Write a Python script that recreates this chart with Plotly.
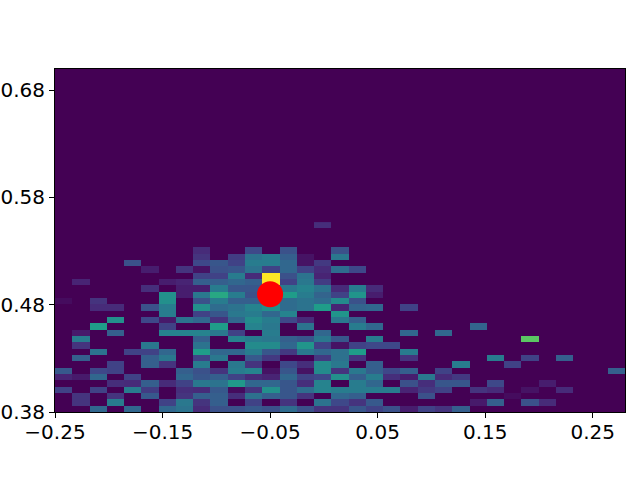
# 2d histogram with one red marker on top
import plotly.graph_objects as go

x_ticks = [-0.25, -0.15, -0.05, 0.05, 0.15, 0.25]
x_labels = ['\u22120.25', '\u22120.15', '\u22120.05', '0.05', '0.15', '0.25']
y_ticks = [0.38, 0.48, 0.58, 0.68]
y_labels = ['0.38', '0.48', '0.58', '0.68']

point_x = [-0.05]
point_y = [0.4897]

# relative bin heights, bottom row first, 33 columns per row
row00 = [0, 0, .33, 0, .33, 0, .33, .38, .12, .25, .25, .28, .25, .35, .25, .15, .15, .27, .2, .25, .08, .2, .15, .3, 0, 0, 0, 0, 0, 0, 0, 0, 0]
row01 = [0, .15, 0, .42, 0, 0, .2, .4, .15, .3, 0, .2, 0, .15, 0, .38, .22, .15, .28, 0, 0, 0, 0, 0, .07, .3, 0, .25, .12, 0, 0, 0, 0]
row02 = [0, .15, 0, .15, 0, .28, 0, .15, .3, .3, .13, .37, .3, .27, .15, 0, .33, .3, 0, 0, 0, .25, 0, 0, 0, 0, .03, 0, 0, 0, 0, 0, 0]
row03 = [.2, 0, .2, 0, .42, .18, 0, .13, .12, .28, .03, .15, .5, .27, .35, .45, .42, .42, .42, .42, .1, .17, .2, 0, .15, .12, 0, .05, 0, .12, 0, 0, 0]
row04 = [0, 0, 0, .13, .12, .3, .12, .2, .4, .38, .53, .33, .33, .27, .13, .45, 0, .42, .33, 0, .25, .13, .27, .27, 0, .22, 0, 0, .08, 0, 0, 0, 0]
row05 = [.1, .07, .33, 0, .2, 0, 0, .33, .27, .3, .2, .12, .1, .33, .2, .22, .5, .3, .42, .13, .08, .4, .12, .17, 0, 0, 0, 0, 0, 0, 0, 0, 0]
row06 = [.28, 0, .22, .2, 0, 0, 0, .3, .25, .15, .42, .45, .05, .27, .05, .48, .15, .4, .3, .22, .3, 0, .2, 0, 0, 0, 0, 0, 0, 0, 0, 0, .3]
row07 = [0, 0, 0, .2, 0, .3, .15, 0, .42, 0, .4, .15, 0, .22, .13, .48, .4, 0, .3, 0, 0, 0, 0, .42, 0, 0, .2, 0, 0, 0, 0, 0, 0]
row08 = [0, .3, 0, 0, 0, .3, .4, 0, .2, .4, 0, .28, .17, 0, 0, .17, .37, .15, 0, 0, .15, 0, 0, 0, 0, .42, 0, .2, 0, .3, 0, 0, 0]
row09 = [0, 0, .38, 0, .2, .2, .33, 0, .55, .33, .33, .42, .27, .17, .4, .33, .37, .55, 0, 0, .42, 0, 0, 0, 0, 0, 0, 0, 0, 0, 0, 0, 0]
row10 = [0, .15, 0, 0, 0, .4, 0, 0, .38, 0, 0, .48, .48, .33, .52, .2, .05, .2, .22, .22, 0, 0, 0, 0, 0, 0, 0, 0, 0, 0, 0, 0, 0]
row11 = [0, .42, 0, 0, 0, 0, 0, 0, .3, 0, .45, .42, .4, .3, .27, .4, .27, 0, .42, 0, 0, 0, 0, 0, 0, 0, 0, .74, 0, 0, 0, 0, 0]
row12 = [0, .07, 0, .3, 0, 0, .45, .45, .45, .4, .2, 0, .42, 0, 0, .33, 0, 0, 0, 0, .33, 0, .33, 0, 0, 0, 0, 0, 0, 0, 0, 0, 0]
row13 = [0, 0, .55, 0, 0, 0, .2, 0, 0, .55, 0, .45, .4, 0, .38, 0, 0, .42, .33, 0, 0, 0, 0, 0, .32, 0, 0, 0, 0, 0, 0, 0, 0]
row14 = [0, 0, 0, .5, 0, .22, .07, .38, .33, .15, .33, .48, .42, .22, .12, 0, .4, .3, 0, 0, 0, 0, 0, 0, 0, 0, 0, 0, 0, 0, 0, 0, 0]
row15 = [0, 0, 0, 0, 0, 0, .42, 0, .2, .27, .4, .42, .33, .45, 0, 0, .52, 0, 0, 0, 0, 0, 0, 0, 0, 0, 0, 0, 0, 0, 0, 0, 0]
row16 = [0, 0, .12, .12, 0, .25, .42, 0, .5, .35, .38, .45, .5, .35, .38, .55, .1, .32, .33, 0, .2, 0, 0, 0, 0, 0, 0, 0, 0, 0, 0, 0, 0]
row17 = [.03, 0, .15, 0, 0, 0, .5, 0, .25, .42, .3, .3, .35, .35, .38, .35, .48, .25, 0, 0, 0, 0, 0, 0, 0, 0, 0, 0, 0, 0, 0, 0, 0]
row18 = [0, 0, 0, 0, 0, 0, .5, .08, .4, .6, .42, .25, .33, .55, .42, .32, .2, .52, .08, 0, 0, 0, 0, 0, 0, 0, 0, 0, 0, 0, 0, 0, 0]
row19 = [0, 0, 0, 0, 0, .13, 0, .08, .08, .42, .27, .27, .35, .4, .45, .38, .12, .42, .12, 0, 0, 0, 0, 0, 0, 0, 0, 0, 0, 0, 0, 0, 0]
row20 = [0, .1, 0, 0, 0, 0, .08, .1, .3, .3, .33, .3, 1, .2, .4, .18, 0, 0, 0, 0, 0, 0, 0, 0, 0, 0, 0, 0, 0, 0, 0, 0, 0]
row21 = [0, 0, 0, 0, 0, 0, 0, 0, .2, .2, .42, .12, 1, .25, .38, .1, 0, 0, 0, 0, 0, 0, 0, 0, 0, 0, 0, 0, 0, 0, 0, 0, 0]
row22 = [0, 0, 0, 0, 0, .08, 0, .15, .05, .25, .27, .38, .2, .33, .2, .12, .35, .22, 0, 0, 0, 0, 0, 0, 0, 0, 0, 0, 0, 0, 0, 0, 0]
row23 = [0, 0, 0, 0, .25, 0, 0, 0, .22, .27, .2, .42, .42, .33, .05, .17, 0, 0, 0, 0, 0, 0, 0, 0, 0, 0, 0, 0, 0, 0, 0, 0, 0]
row24 = [0, 0, 0, 0, 0, 0, 0, 0, .15, 0, .18, .38, .42, .3, .05, 0, .4, 0, 0, 0, 0, 0, 0, 0, 0, 0, 0, 0, 0, 0, 0, 0, 0]
row25 = [0, 0, 0, 0, 0, 0, 0, 0, .12, 0, 0, .22, 0, .25, 0, 0, .25, 0, 0, 0, 0, 0, 0, 0, 0, 0, 0, 0, 0, 0, 0, 0, 0]
row26 = [0] * 33
row27 = [0] * 33
row28 = [0] * 33
row29 = [0, 0, 0, 0, 0, 0, 0, 0, 0, 0, 0, 0, 0, 0, 0, .13, 0, 0, 0, 0, 0, 0, 0, 0, 0, 0, 0, 0, 0, 0, 0, 0, 0]

hist_rows = [row00, row01, row02, row03, row04, row05, row06, row07, row08, row09,
             row10, row11, row12, row13, row14, row15, row16, row17, row18, row19,
             row20, row21, row22, row23, row24, row25, row26, row27, row28, row29]

x_min, x_max = -0.25, 0.28
y_min, y_max = 0.38, 0.6997
dx = (x_max - x_min) / 33
dy = 0.0059

axis_style = dict(
    automargin=False,
    showgrid=False, zeroline=False, showline=True, mirror=True,
    linecolor='black', linewidth=1,
    ticks='outside', ticklen=5, tickwidth=1, tickcolor='black',
    tickfont=dict(family='DejaVu Sans', size=20, color='black'),
)

fig = go.Figure()
fig.add_trace(go.Heatmap(
    z=hist_rows,
    x0=x_min + dx / 2, dx=dx,
    y0=y_min + dy / 2, dy=dy,
    colorscale='Viridis', zmin=0, zmax=1,
    showscale=False,
))
fig.add_trace(go.Scatter(
    x=point_x, y=point_y, mode='markers',
    marker=dict(color='#ff0000', size=26, line=dict(width=0)),
    showlegend=False,
))
fig.update_layout(
    width=640, height=480,
    margin=dict(l=55, r=15, t=69, b=68),
    paper_bgcolor='white', plot_bgcolor='#440154',
    showlegend=False,
)
fig.update_xaxes(range=[x_min, x_max], tickvals=x_ticks, ticktext=x_labels,
                 ticklabelstandoff=-3, **axis_style)
fig.update_yaxes(range=[y_min, y_max], tickvals=y_ticks, ticktext=y_labels, **axis_style)

# drop the page's default body margin so the figure fills the window
fig.write_html("out.html", config={'displayModeBar': False},
               post_script="document.body.style.margin = '0';")
